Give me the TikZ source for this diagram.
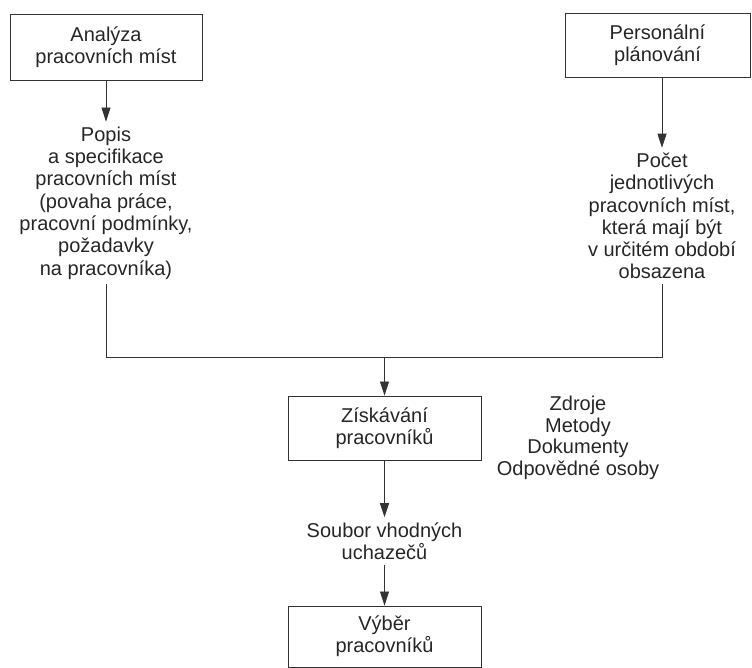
\documentclass[tikz,border=0pt]{standalone}
\usepackage{fontspec}
\setmainfont{Liberation Sans}
\usetikzlibrary{arrows.meta}

\tikzset{
  lbl/.style={align=center, inner sep=5pt, text=black!85,
    font=\fontsize{20}{22.3}\selectfont},
  boxnode/.style={lbl, draw=black!80, line width=0.9pt},
  link/.style={draw=black!80, line width=0.8pt},
  flow/.style={link, -{Triangle[length=14pt,width=9pt]}},
}

\begin{document}
\begin{tikzpicture}[x=1pt,y=-1pt]
  \useasboundingbox (0,0) rectangle (752,668);

  % top row: the two sources
  \node[boxnode, minimum width=192pt, minimum height=66pt] (analyza) at (106,47)
    {Analýza\\pracovních míst};
  \node[boxnode, minimum width=185pt, minimum height=64pt] (planovani) at (657.5,45)
    {Personální\\plánování};

  % their outcomes
  \node[lbl] (popis) at (106,203)
    {Popis\\a specifikace\\pracovních míst\\(povaha práce,\\pracovní podmínky,\\požadavky\\na pracovníka)};
  \node[lbl] (pocet) at (662,216)
    {Počet\\jednotlivých\\pracovních míst,\\která mají být\\v určitém období\\obsazena};

  % recruitment and selection
  \coordinate (join) at (384.5,357);
  \node[boxnode, minimum width=193pt, minimum height=64pt] (ziskavani) at (384.5,428)
    {Získávání\\pracovníků};
  \node[lbl, font=\fontsize{20}{21.6}\selectfont] (zdroje) at (578,438)
    {Zdroje\\Metody\\Dokumenty\\Odpovědné osoby};
  \node[lbl] (soubor) at (384.5,541)
    {Soubor vhodných\\uchazečů};
  \node[boxnode, minimum width=193pt, minimum height=61pt] (vyber) at (384.5,636.5)
    {Výběr\\pracovníků};

  % connectors
  \draw[flow] (analyza.south) -- (popis.north);
  \draw[flow] (planovani.south -| pocet.north) -- (pocet.north);
  \draw[link] (popis.south) -- (popis.south |- join) -- (pocet.south |- join)
    -- (pocet.south);
  \draw[flow] (join) -- (ziskavani.north);
  \draw[flow] (ziskavani.south) -- (soubor.north);
  \draw[flow] (soubor.south) -- (vyber.north);
\end{tikzpicture}
\end{document}
